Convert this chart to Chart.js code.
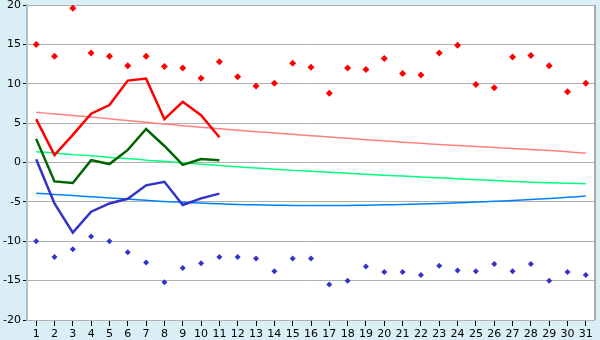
<!DOCTYPE html>
<html>
<head>
<meta charset="utf-8">
<script src="https://cdn.jsdelivr.net/npm/chart.js@4"></script>
<style>
  html, body { margin: 0; padding: 0; background: #daeef5; }
  #wrap { width: 600px; height: 340px; }
</style>
</head>
<body>
<div id="wrap"><canvas id="chart" width="600" height="340"></canvas></div>
<script>
/*------ data ------*/
const days = ['1','2','3','4','5','6','7','8','9','10','11','12','13','14','15','16','17','18','19','20','21','22','23','24','25','26','27','28','29','30','31'];
const yTicks = [-20, -15, -10, -5, 0, 5, 10, 15, 20];

const recordMax = [15.0, 13.5, 19.6, 13.9, 13.5, 12.3, 13.5, 12.2, 12.0, 10.7, 12.8, 10.9, 9.7, 10.05, 12.6, 12.1, 8.8, 12.0, 11.8, 13.2, 11.3, 11.1, 13.9, 14.9, 9.9, 9.5, 13.4, 13.6, 12.3, 9.0, 10.05];
const recordMin = [-10.0, -12.0, -11.0, -9.4, -10.0, -11.4, -12.7, -15.2, -13.4, -12.8, -12.0, -12.0, -12.2, -13.8, -12.2, -12.2, -15.5, -15.0, -13.2, -13.9, -13.9, -14.3, -13.1, -13.7, -13.8, -12.9, -13.8, -12.9, -15.0, -13.9, -14.3];

const tempMax = [5.5, 0.95, 3.5, 6.2, 7.3, 10.4, 10.65, 5.5, 7.7, 6.0, 3.2];
const tempMean = [3.0, -2.4, -2.6, 0.3, -0.2, 1.6, 4.25, 2.1, -0.3, 0.45, 0.3];
const tempMin = [0.4, -5.2, -8.9, -6.25, -5.2, -4.6, -2.9, -2.45, -5.4, -4.55, -3.95];

const normMax = [6.37, 6.17, 5.97, 5.78, 5.55, 5.33, 5.1, 4.9, 4.68, 4.47, 4.28, 4.1, 3.92, 3.75, 3.58, 3.41, 3.24, 3.07, 2.9, 2.74, 2.58, 2.43, 2.3, 2.17, 2.04, 1.9, 1.78, 1.65, 1.52, 1.38, 1.17];
const normMean = [1.37, 1.2, 1.0, 0.85, 0.65, 0.5, 0.3, 0.15, -0.05, -0.22, -0.38, -0.55, -0.7, -0.85, -1.0, -1.12, -1.25, -1.38, -1.5, -1.62, -1.73, -1.85, -1.95, -2.05, -2.18, -2.28, -2.4, -2.5, -2.58, -2.65, -2.7];
const normMin = [-3.9, -4.05, -4.2, -4.35, -4.5, -4.65, -4.8, -4.95, -5.05, -5.15, -5.25, -5.32, -5.38, -5.42, -5.45, -5.46, -5.46, -5.45, -5.42, -5.38, -5.33, -5.27, -5.2, -5.12, -5.03, -4.93, -4.82, -4.7, -4.57, -4.42, -4.25];

/*------ plot area background + border ------*/
const plotFrame = {
    id: 'plotFrame',
    beforeDraw(chart) {
        const a = chart.chartArea, c = chart.ctx;
        c.save();
        c.fillStyle = '#ffffff';
        c.fillRect(a.left, a.top, a.right - a.left, a.bottom - a.top);
        c.restore();
    },
    afterDatasetsDraw(chart) {
        const a = chart.chartArea, c = chart.ctx;
        c.save();
        c.strokeStyle = '#a8a8a8';
        c.lineWidth = 2;
        c.beginPath();
        c.moveTo(a.right, a.top);
        c.lineTo(a.right, a.bottom);
        c.stroke();
        c.restore();
    }
};

function trend(data, color) {
    return { type: 'line', data: data, borderColor: color, borderWidth: 1.5, pointRadius: 0, tension: 0.3, order: 5 };
}
function thick(data, color) {
    return { type: 'line', data: data, borderColor: color, borderWidth: 2.5, pointRadius: 0, tension: 0, order: 3 };
}
function marks(data, color, r) {
    return { type: 'line', data: data, showLine: false, pointStyle: 'rectRot', pointRadius: r, pointBorderWidth: 0,
             backgroundColor: color, borderColor: color, order: 1 };
}

const ctx = document.getElementById('chart').getContext('2d');
const chart = new Chart(ctx, {
    type: 'line',
    data: {
        labels: days,
        datasets: [
            trend(normMax, '#ff8080'),
            trend(normMean, '#00ff80'),
            trend(normMin, '#0080ff'),
            thick(tempMax, '#ff0000'),
            thick(tempMean, '#006400'),
            thick(tempMin, '#3333cc'),
            marks(recordMax, '#ff0000', 3.5),
            marks(recordMin, '#3333cc', 3)
        ]
    },
    options: {
        responsive: false,
        animation: false,
        layout: { padding: { top: 5, right: 5, left: 0, bottom: 0 } },
        plugins: { legend: { display: false }, tooltip: { enabled: false } },
        scales: {
            x: {
                offset: true,
                grid: { drawOnChartArea: false, drawTicks: true, tickLength: 6, tickColor: '#000000', offset: false },
                border: { display: false },
                ticks: { color: '#000000', font: { family: 'DejaVu Sans', size: 11 }, padding: 2, maxRotation: 0, autoSkip: false },
                afterFit(s) { s.height = 20; s.paddingLeft = 0; s.paddingRight = 0; }
            },
            y: {
                min: -20, max: 20,
                afterBuildTicks(s) { s.ticks = yTicks.map(v => ({ value: v })); },
                grid: { color: '#b0b0b0', lineWidth: 1, tickLength: 4, tickColor: '#000000' },
                border: { display: true, color: '#a9c3cf', width: 2 },
                ticks: { color: '#000000', font: { family: 'DejaVu Sans', size: 11 }, padding: 2 },
                afterFit(s) { s.width = 27; s.paddingTop = 0; s.paddingBottom = 0; }
            }
        }
    },
    plugins: [plotFrame]
});
</script>
</body>
</html>
